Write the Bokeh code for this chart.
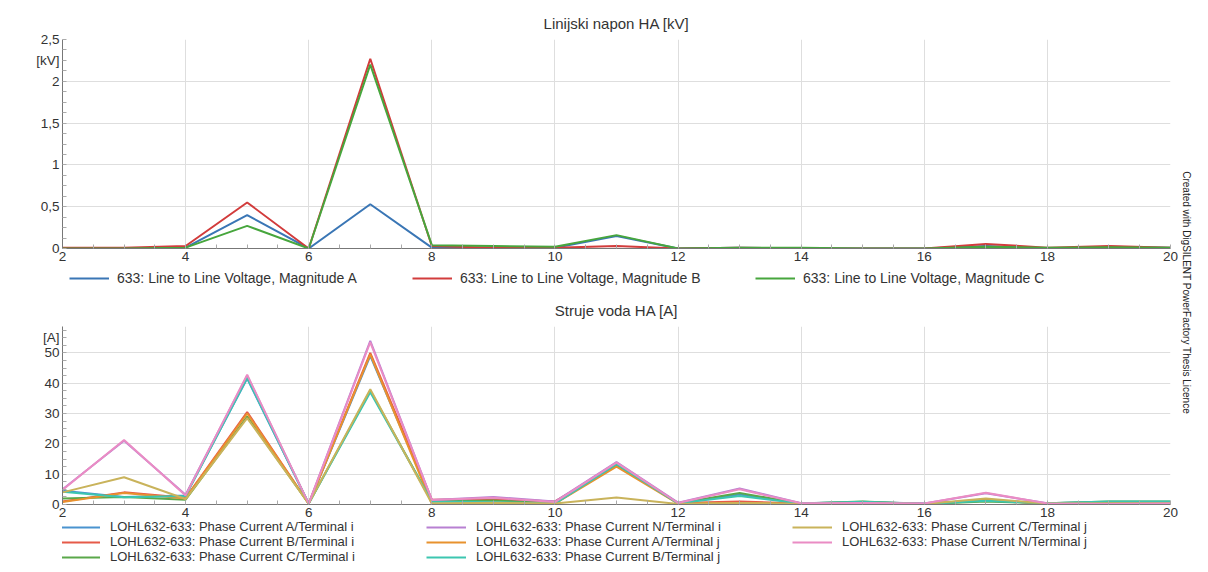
import math
from bokeh.plotting import figure
from bokeh.models import FixedTicker, Legend, LegendItem, Label, Range1d, Spacer
from bokeh.layouts import column, row
from bokeh.embed import file_html
from bokeh.resources import INLINE

FONT = "Liberation Sans"

# ---------------- data ----------------
harmonic = [2, 3, 4, 5, 6, 7, 8, 9, 10, 11, 12, 13, 14, 15, 16, 17, 18, 19, 20]

volt_labels = ["633: Line to Line Voltage, Magnitude A",
               "633: Line to Line Voltage, Magnitude B",
               "633: Line to Line Voltage, Magnitude C"]
volt_a = [0.00, 0.00, 0.01, 0.40, 0.00, 0.53, 0.01, 0.01, 0.01, 0.15, 0.00, 0.01, 0.00, 0.00, 0.00, 0.03, 0.00, 0.02, 0.01]
volt_b = [0.01, 0.01, 0.03, 0.55, 0.00, 2.27, 0.03, 0.01, 0.01, 0.03, 0.00, 0.01, 0.00, 0.00, 0.00, 0.055, 0.01, 0.03, 0.01]
volt_c = [0.00, 0.00, 0.01, 0.27, 0.00, 2.20, 0.04, 0.03, 0.02, 0.16, 0.00, 0.01, 0.01, 0.00, 0.00, 0.02, 0.01, 0.015, 0.01]
volt_colors = ["#3a76b5", "#d23c3c", "#47a63d"]

cur_labels = ["LOHL632-633: Phase Current A/Terminal i",
              "LOHL632-633: Phase Current B/Terminal i",
              "LOHL632-633: Phase Current C/Terminal i",
              "LOHL632-633: Phase Current N/Terminal i",
              "LOHL632-633: Phase Current A/Terminal j",
              "LOHL632-633: Phase Current B/Terminal j",
              "LOHL632-633: Phase Current C/Terminal j",
              "LOHL632-633: Phase Current N/Terminal j"]
cur_ai = [4.5, 2.5, 3.0, 41.5, 0.3, 49.0, 1.2, 1.5, 0.6, 13.5, 0.5, 3.3, 0.4, 0.8, 0.3, 1.2, 0.4, 0.8, 0.8]
cur_bi = [1.0, 4.0, 2.2, 30.5, 0.3, 50.0, 1.6, 1.8, 1.0, 13.0, 0.5, 1.0, 0.3, 0.6, 0.2, 1.5, 0.3, 0.6, 0.5]
cur_ci = [2.0, 2.5, 1.6, 29.0, 0.3, 37.5, 1.0, 1.3, 0.4, 13.2, 0.4, 3.8, 0.3, 1.0, 0.2, 1.0, 0.4, 1.0, 1.0]
cur_ni = [5.0, 21.0, 3.2, 42.5, 0.3, 54.0, 1.5, 2.5, 1.0, 14.0, 0.6, 5.3, 0.4, 0.6, 0.3, 3.7, 0.4, 0.3, 0.3]
cur_aj = [0.8, 3.8, 2.0, 30.0, 0.3, 49.5, 0.2, 0.3, 0.3, 12.5, 0.3, 0.5, 0.2, 0.3, 0.2, 1.6, 0.2, 0.2, 0.2]
cur_bj = [4.2, 2.4, 2.8, 41.8, 0.3, 37.0, 1.0, 0.8, 0.3, 13.3, 0.4, 2.8, 0.3, 0.9, 0.2, 1.2, 0.4, 1.0, 1.0]
cur_cj = [4.0, 9.0, 1.8, 28.5, 0.3, 38.0, 0.3, 0.6, 0.3, 2.3, 0.2, 0.5, 0.2, 0.4, 0.2, 2.0, 0.3, 0.4, 0.4]
cur_nj = [4.8, 21.3, 3.0, 42.8, 0.3, 53.5, 1.5, 2.2, 0.8, 13.8, 0.5, 5.0, 0.4, 0.5, 0.3, 3.9, 0.3, 0.2, 0.3]
cur_colors = ["#4a93cf", "#e65a48", "#5aa84a", "#b880d2", "#e8922e", "#3cc6b0", "#c9b35b", "#ea8cc4"]

x_ticks = [2, 4, 6, 8, 10, 12, 14, 16, 18, 20]
volt_ticks = [0, 0.5, 1, 1.5, 2, 2.5]
volt_tick_labels = ["0", "0,5", "1", "1,5", "2", "2,5"]
volt_unit = "[kV]"
cur_ticks = [0, 10, 20, 30, 40, 50]
cur_tick_labels = ["0", "10", "20", "30", "40", "50"]
cur_unit = "[A]"

GRID = "#dedede"
AXIS = "#777777"
TXT = "#333333"


def style(p, yticks, ylabels, unit, unit_pos, ystep, ytop):
    p.outline_line_color = None
    p.title.align = "center"
    p.title.text_font = FONT
    p.title.text_font_size = "15px"
    p.title.text_font_style = "normal"
    p.title.text_color = TXT
    p.title.standoff = 15
    xminor = [2 + 0.5 * i for i in range(37)]
    p.xaxis.ticker = FixedTicker(ticks=x_ticks, minor_ticks=xminor)
    yminor = []
    v = 0.0
    while v <= ytop + 1e-9:
        yminor.append(round(v, 6))
        v += ystep
    p.yaxis.ticker = FixedTicker(ticks=yticks + [unit_pos], minor_ticks=yminor)
    ov = {t: l for t, l in zip(yticks, ylabels)}
    ov[unit_pos] = unit
    p.yaxis.major_label_overrides = ov
    for ax in (p.xaxis, p.yaxis):
        ax.axis_line_color = AXIS
        ax.major_tick_in = 0
        ax.major_tick_out = 0
        ax.minor_tick_in = 4
        ax.minor_tick_out = 0
        ax.minor_tick_line_color = "#aaaaaa"
        ax.major_label_text_font = FONT
        ax.major_label_text_font_size = "13.5px"
        ax.major_label_text_color = TXT
        ax.major_label_standoff = 3
        ax.axis_label_standoff = 0
    p.xgrid.ticker = FixedTicker(ticks=x_ticks[1:])
    p.ygrid.ticker = FixedTicker(ticks=yticks[1:])
    p.xgrid.grid_line_color = GRID
    p.ygrid.grid_line_color = GRID


def legend_fig(height, series, colors, labels, loc, font_size, **kw):
    lf = figure(width=1180, height=height, x_range=Range1d(-10, -9), y_range=Range1d(0, 1),
                output_backend="svg", toolbar_location=None, x_axis_type=None, y_axis_type=None,
                min_border=0)
    lf.outline_line_color = None
    lf.grid.visible = False
    items = []
    for ys, col, lab in zip(series, colors, labels):
        r = lf.line(harmonic, ys, line_color=col, line_width=2)
        items.append(LegendItem(label=lab, renderers=[r]))
    lg = Legend(items=items, location=loc, **kw)
    lg.label_text_font = FONT
    lg.label_text_font_size = font_size
    lg.label_text_color = TXT
    lg.glyph_width = 40
    lg.padding = 0
    lg.margin = 0
    lg.spacing = 0
    lg.border_line_color = None
    lg.background_fill_alpha = 0
    lf.add_layout(lg)
    return lf


# ---------------- top figure ----------------
p1 = figure(width=1180, height=258, x_range=Range1d(2, 20), y_range=Range1d(0, 2.5),
            output_backend="svg", toolbar_location=None,
            min_border_left=62, min_border_right=10, min_border_top=0, min_border_bottom=0,
            title="Linijski napon HA [kV]")
style(p1, volt_ticks, volt_tick_labels, volt_unit, 2.25, 0.125, 2.5)
volt_series = [volt_a, volt_b, volt_c]
for ys, col in zip(volt_series, volt_colors):
    p1.line(harmonic, ys, line_color=col, line_width=2)
leg1 = legend_fig(29, volt_series, volt_colors, volt_labels, (7, 6), "14px",
                  orientation="horizontal", label_width=295, label_standoff=8,
                  label_height=12, glyph_height=12)

# ---------------- bottom figure ----------------
p2 = figure(width=1180, height=227, x_range=Range1d(2, 20), y_range=Range1d(0, 58.7),
            output_backend="svg", toolbar_location=None,
            min_border_left=54, min_border_right=10, min_border_top=0, min_border_bottom=0,
            title="Struje voda HA [A]")
style(p2, cur_ticks, cur_tick_labels, cur_unit, 55.2, 2.5, 57.5)
cur_series = [cur_ai, cur_bi, cur_ci, cur_ni, cur_aj, cur_bj, cur_cj, cur_nj]
for ys, col in zip(cur_series, cur_colors):
    p2.line(harmonic, ys, line_color=col, line_width=2)
leg2 = legend_fig(45, cur_series, cur_colors, cur_labels, (-2, 0), "13px",
                  orientation="vertical", nrows=3, label_width=316, label_standoff=10,
                  label_height=12, glyph_height=12)

# ---------------- watermark ----------------
p3 = figure(width=12, height=564, x_range=Range1d(0, 1), y_range=Range1d(0, 1),
            output_backend="svg", toolbar_location=None, x_axis_type=None, y_axis_type=None,
            min_border=0)
p3.outline_line_color = None
p3.grid.visible = False
p3.add_layout(Label(x=0.5, y=0.482, text="Created with DigSILENT PowerFactory Thesis Licence",
                    angle=-math.pi / 2, text_align="center", text_baseline="middle",
                    text_font=FONT, text_font_size="10px", text_color="#222222"))

layout = row(column(Spacer(width=1180, height=5), p1, leg1, p2, leg2), p3)
open("out.html", "w").write(file_html(layout, INLINE))
